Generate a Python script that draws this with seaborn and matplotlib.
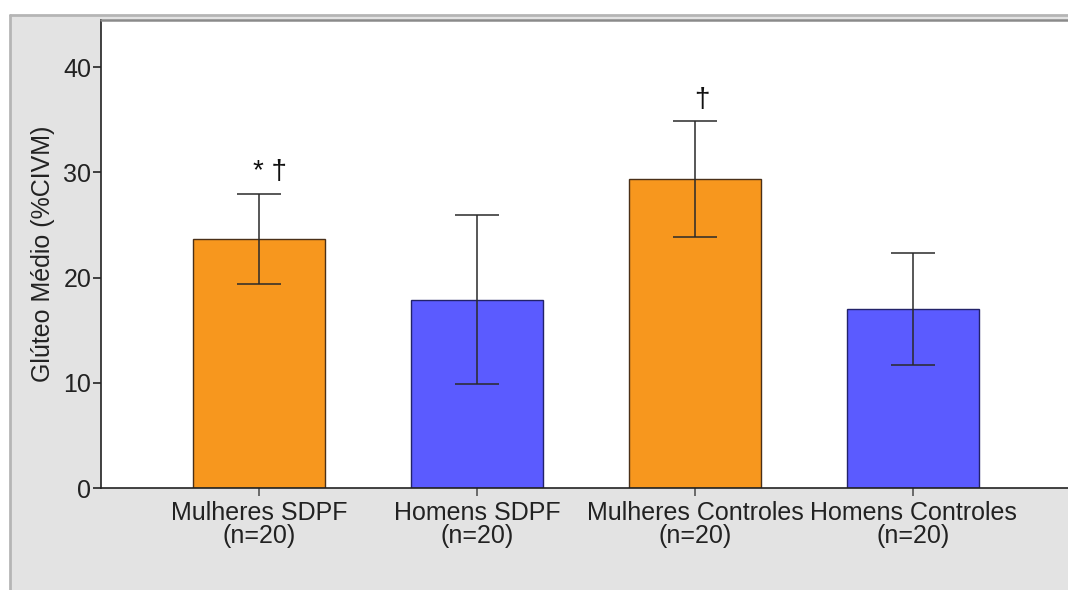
import matplotlib
matplotlib.use("Agg")
import matplotlib.pyplot as plt
import seaborn as sns
import pandas as pd
from matplotlib.patches import Rectangle
from matplotlib.lines import Line2D

# Group means and standard deviations of gluteus medius activation (%CIVM)
groups = ["Mulheres SDPF\n(n=20)", "Homens SDPF\n(n=20)",
          "Mulheres Controles\n(n=20)", "Homens Controles\n(n=20)"]
means = [23.7, 17.9, 29.4, 17.0]
errors = [4.3, 8.05, 5.5, 5.35]
marks = ["* \u2020", "", "\u2020", ""]
colors = ["#F7971E", "#5B5BFF", "#F7971E", "#5B5BFF"]
edges = ["#4a3018", "#22226a", "#4a3018", "#22226a"]

sns.set_theme(style="white")
plt.rcParams["font.family"] = ["Liberation Sans", "DejaVu Sans"]

fig = plt.figure(figsize=(10.68, 5.90), dpi=100)
fig.patch.set_facecolor("white")

# Grey outer panel with a double border on top
W, H = 1068, 590
fig.patches.append(Rectangle((10 / W, 0), 1 - 10 / W, 1 - 15 / H,
                             transform=fig.transFigure, facecolor="#e3e3e3",
                             edgecolor="none", zorder=-5))
fig.lines.append(Line2D([10 / W, 1], [1 - 15 / H, 1 - 15 / H], transform=fig.transFigure,
                        color="#b5b5b5", lw=2.0, zorder=-4))
fig.lines.append(Line2D([101 / W, 1], [1 - 19.5 / H, 1 - 19.5 / H], transform=fig.transFigure,
                        color="#8a8a8a", lw=1.8, zorder=3))
fig.lines.append(Line2D([10 / W, 10 / W], [0, 1 - 15 / H], transform=fig.transFigure,
                        color="#b5b5b5", lw=2.0, zorder=-4))

ax = fig.add_axes([101 / W, 1 - 488 / H, 1 - 101 / W, (488 - 20) / H])
ax.set_facecolor("white")

df = pd.DataFrame({"grupo": groups, "valor": means})
sns.barplot(data=df, x="grupo", y="valor", hue="grupo", palette=colors,
            saturation=1, legend=False, errorbar=None, width=0.605,
            linewidth=1.0, ax=ax, zorder=2)
for bar, ec in zip(ax.patches, edges):
    bar.set_edgecolor(ec)

xs = range(len(groups))
ax.errorbar(xs, means, yerr=errors, fmt="none", ecolor="#2a2a2a",
            elinewidth=1.1, capsize=15.5, capthick=1.1, zorder=3)

for x, m, e, t in zip(xs, means, errors, marks):
    if t:
        ax.text(x + (0.05 if len(t) > 1 else 0.03), m + e + 0.8, t, ha="center",
                va="bottom", fontsize=20, color="#111111")

ax.set_xlim(-0.725, 3.71)
ax.set_ylim(0, 44.5)
ax.set_yticks([0, 10, 20, 30, 40])
ax.set_ylabel("Glúteo Médio (%CIVM)", fontsize=18, color="#222222", labelpad=6)
ax.set_xlabel("")

for s in ["top", "right"]:
    ax.spines[s].set_visible(False)
for s in ["left", "bottom"]:
    ax.spines[s].set_color("#222222")
    ax.spines[s].set_linewidth(1.2)

ax.tick_params(axis="y", direction="out", length=6, width=1.2, color="#222222",
               labelsize=18, labelcolor="#222222", pad=1, left=True)
ax.tick_params(axis="x", direction="out", length=6, width=1.2, color="#555555",
               labelsize=18, labelcolor="#222222", pad=3, bottom=True)
for lbl in ax.get_xticklabels():
    lbl.set_linespacing(0.95)

fig.savefig("out.png", dpi=100, facecolor=fig.get_facecolor())
